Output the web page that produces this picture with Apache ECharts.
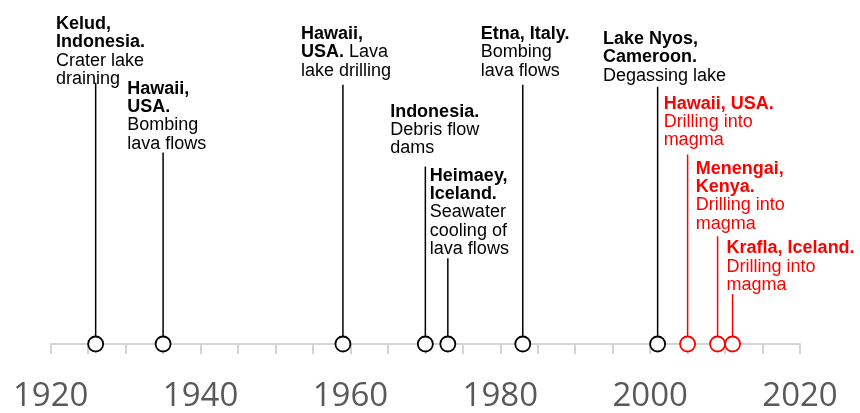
<!DOCTYPE html>
<html>
<head>
<meta charset="utf-8">
<script src="https://cdn.jsdelivr.net/npm/echarts@6/dist/echarts.min.js"></script>
<style>
  html, body { margin: 0; padding: 0; background: #fff; }
  #chart { width: 860px; height: 413px; }
</style>
</head>
<body>
<div id="chart"></div>
<script>
// events on the timeline
const years = [1926, 1935, 1959, 1970, 1973, 1983, 2001, 2005, 2009, 2011];
const titles = ['Kelud,\nIndonesia.', 'Hawaii,\nUSA.', 'Hawaii,\nUSA.', 'Indonesia.', 'Heimaey,\nIceland.',
  'Etna, Italy.', 'Lake Nyos,\nCameroon.', 'Hawaii, USA.', 'Menengai,\nKenya.', 'Krafla, Iceland.'];
const notes = ['Crater lake\ndraining', 'Bombing\nlava flows', ' Lava\nlake drilling', 'Debris flow\ndams',
  'Seawater\ncooling of\nlava flows', 'Bombing\nlava flows', 'Degassing lake',
  'Drilling into\nmagma', 'Drilling into\nmagma', 'Drilling into\nmagma'];
const kinds = ['other', 'other', 'other', 'other', 'other', 'other', 'other', 'drilling', 'drilling', 'drilling'];
const tickLabels = [1920, 1940, 1960, 1980, 2000, 2020];

// layout: stem heights (px above axis) and label anchors [year, px above axis]
const stemTops = [262, 192, 260, 178, 86, 260, 258, 190, 108, 50];
const labelAt = [[1920.7, 330], [1930.2, 265], [1953.4, 320], [1965.3, 242], [1970.6, 178],
  [1977.4, 320], [1993.7, 315], [2001.8, 250], [2006.1, 185], [2010.2, 105]];

const colorOf = k => k === 'drilling' ? '#ff0000' : '#000000';

function richText(i) {
  const c = kinds[i] === 'drilling' ? 'r' : 'k';
  let s = titles[i].split('\n').map(t => '{' + c + 'b|' + t + '}').join('\n');
  const lines = notes[i].split('\n');
  if (lines[0].startsWith(' ')) {
    s += '{' + c + '|' + lines.shift() + '}';
  }
  if (lines.length) s += '\n' + lines.map(t => '{' + c + '|' + t + '}').join('\n');
  return s;
}

const txt = { fontFamily: 'Liberation Sans', fontSize: 18, lineHeight: 18.3 };

const chart = echarts.init(document.getElementById('chart'));
chart.setOption({
  animation: false,
  backgroundColor: '#fff',
  grid: { left: 50.7, right: 60, top: 5, bottom: 68 },
  xAxis: {
    type: 'value',
    min: 1920,
    max: 2020,
    interval: 5,
    splitLine: { show: false },
    axisLine: { lineStyle: { color: '#d4d4d4', width: 2 } },
    axisTick: { length: 10, lineStyle: { color: '#d4d4d4', width: 2 } },
    axisLabel: {
      margin: 36,
      color: '#595959',
      fontFamily: 'Open Sans',
      fontSize: 33,
      formatter: v => tickLabels.includes(v) ? String(v) : ''
    }
  },
  yAxis: { type: 'value', min: 0, max: 340, show: false },
  series: [
    {
      type: 'custom',
      z: 1,
      data: years.map((y, i) => [y, stemTops[i], i]),
      renderItem: (params, api) => {
        const p0 = api.coord([api.value(0), 0]);
        const p1 = api.coord([api.value(0), api.value(1)]);
        return {
          type: 'line',
          shape: { x1: p0[0], y1: p0[1], x2: p1[0], y2: p1[1] },
          style: { stroke: colorOf(kinds[api.value(2)]), lineWidth: 1.5 }
        };
      }
    },
    {
      type: 'scatter',
      z: 3,
      clip: false,
      symbol: 'circle',
      symbolSize: 15,
      itemStyle: { opacity: 1 },
      data: years.map((y, i) => ({
        value: [y, 0],
        itemStyle: { color: '#fff', borderColor: colorOf(kinds[i]), borderWidth: 1.8, opacity: 1 }
      }))
    },
    {
      type: 'scatter',
      z: 4,
      clip: false,
      symbolSize: 0,
      itemStyle: { opacity: 1 },
      data: labelAt.map((p, i) => ({ value: p, label: { formatter: richText(i) } })),
      label: {
        show: true,
        position: [0, 0],
        align: 'left',
        verticalAlign: 'top',
        rich: {
          kb: Object.assign({ color: '#000', fontWeight: 'bold' }, txt),
          k: Object.assign({ color: '#000' }, txt),
          rb: Object.assign({ color: '#ff0000', fontWeight: 'bold' }, txt),
          r: Object.assign({ color: '#ff0000' }, txt)
        }
      }
    }
  ]
});
</script>
</body>
</html>
